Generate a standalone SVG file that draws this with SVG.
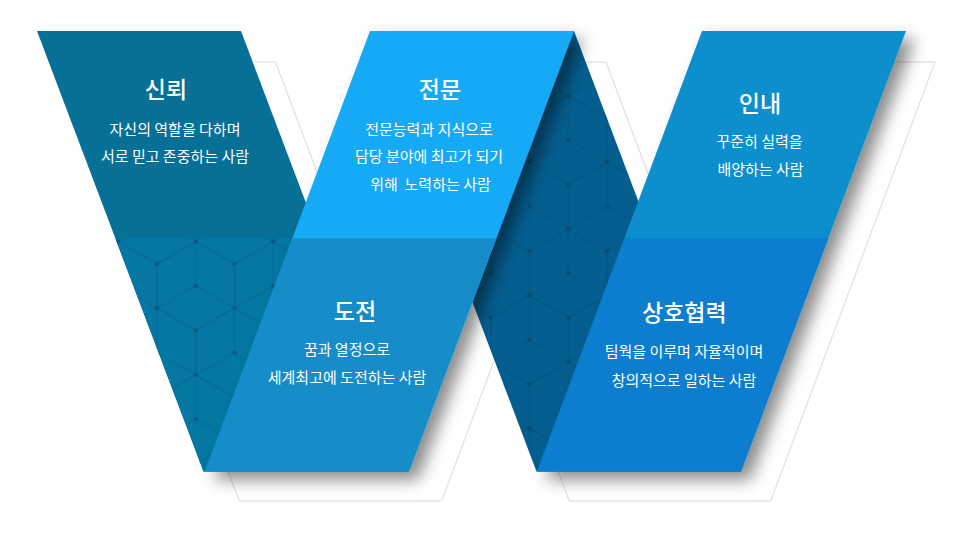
<svg xmlns="http://www.w3.org/2000/svg" xmlns:xlink="http://www.w3.org/1999/xlink" width="966" height="539" viewBox="0 0 966 539">
<style>
.t{font-family:"Noto Sans CJK KR","Noto Sans",sans-serif;fill:#ffffff;text-anchor:middle}
.h{font-size:23px;font-weight:500}
.b{font-size:15px;font-weight:400}
.out{fill:#ffffff;stroke:#d9d9d9;stroke-width:1}
</style>
<defs>
<filter id="sh" x="-20%" y="-20%" width="150%" height="140%">
<feDropShadow dx="9" dy="8" stdDeviation="8" flood-color="#000000" flood-opacity="0.45"/>
</filter>
<g id="hex"><path d="M0,-44.4L38.7,-22.2V22.2L0,44.4L-38.7,22.2V-22.2Z M0,0V-44.4 M0,0L-38.7,22.2 M0,0L38.7,22.2" fill="none" stroke="#002a45" stroke-width="1"/></g>
<g id="hexset">
<g opacity="0.17">
<use href="#hex" x="0" y="0"/><use href="#hex" x="77.4" y="0"/><use href="#hex" x="38.7" y="66.6"/><use href="#hex" x="-38.7" y="66.6"/><use href="#hex" x="116.1" y="66.6"/><use href="#hex" x="0" y="133.2"/><use href="#hex" x="77.4" y="133.2"/>
</g>
<g fill="#002a45" opacity="0.3">
<circle cx="0" cy="0" r="2.2"/><circle cx="0" cy="44.4" r="2.2"/><circle cx="0" cy="88.8" r="2.2"/><circle cx="0" cy="133.2" r="2.2"/>
<circle cx="77.4" cy="0" r="2.2"/><circle cx="77.4" cy="44.4" r="2.2"/><circle cx="77.4" cy="88.8" r="2.2"/><circle cx="77.4" cy="133.2" r="2.2"/>
<circle cx="38.7" cy="22.2" r="2.2"/><circle cx="38.7" cy="66.6" r="2.2"/><circle cx="38.7" cy="111" r="2.2"/>
</g>
</g>
<pattern id="patL" patternUnits="userSpaceOnUse" x="195.7" y="286" width="77.4" height="133.2"><use href="#hexset"/></pattern>
<pattern id="patD" patternUnits="userSpaceOnUse" x="568.3" y="140" width="77.4" height="133.2"><use href="#hexset"/></pattern>
</defs>

<g id="outline-frame">
<path class="out" d="M74,62 L275.5,62 L340.4,234 L405,62 L606,62 L670,232 L734,62 L935,62 L770.7,501 L569.3,501 L505.3,330.6 L441.7,501 L239.3,501 Z"/>
</g>

<g id="connectors"></g>

<g id="node-trust">
<polygon points="37,31 241,31 407.5,471.5 203.5,471.5" fill="#067097"/>
<polygon points="115.4,238.3 319.4,238.3 407.5,471.5 203.5,471.5" fill="#0477a2"/>
<polygon points="115.4,238.3 319.4,238.3 407.5,471.5 203.5,471.5" fill="url(#patL)"/>
<text class="t h" x="166" y="98">신뢰</text>
<text class="t b" x="175" y="135">자신의 역할을 다하며</text>
<text class="t b" x="175" y="162">서로 믿고 존중하는 사람</text>
</g>

<g id="node-dark">
<polygon points="370,31 574,31 740.5,471.5 536.5,471.5" fill="#045e8f"/>
<polygon points="370,31 574,31 740.5,471.5 536.5,471.5" fill="url(#patD)"/>
</g>

<g id="node-expert" filter="url(#sh)">
<polygon points="370,31 574,31 409,471.5 205,471.5" fill="#14aaf6"/>
<polygon points="292.35,238.3 496.35,238.3 409,471.5 205,471.5" fill="#128dc8"/>
</g>
<g id="node-expert-text">
<text class="t h" x="440" y="98">전문</text>
<text class="t b" x="429" y="135">전문능력과 지식으로</text>
<text class="t b" x="429" y="162">담당 분야에 최고가 되기</text>
<text class="t b" x="430.5" y="190" xml:space="preserve">위해  노력하는 사람</text>
</g>
<g id="node-challenge">
<text class="t h" x="355" y="320">도전</text>
<text class="t b" x="347" y="355">꿈과 열정으로</text>
<text class="t b" x="347" y="383">세계최고에 도전하는 사람</text>
</g>

<g id="node-patience" filter="url(#sh)">
<polygon points="702,31 906,31 741,471.5 537,471.5" fill="#078fcd"/>
<polygon points="624.35,238.3 828.35,238.3 741,471.5 537,471.5" fill="#077dcf"/>
</g>
<g id="node-patience-text">
<text class="t h" x="760" y="112">인내</text>
<text class="t b" x="759.5" y="147">꾸준히 실력을</text>
<text class="t b" x="760.5" y="175">배양하는 사람</text>
</g>
<g id="node-cooperation">
<text class="t h" x="684.3" y="321">상호협력</text>
<text class="t b" x="684" y="357">팀웍을 이루며 자율적이며</text>
<text class="t b" x="684" y="386">창의적으로 일하는 사람</text>
</g>
</svg>
